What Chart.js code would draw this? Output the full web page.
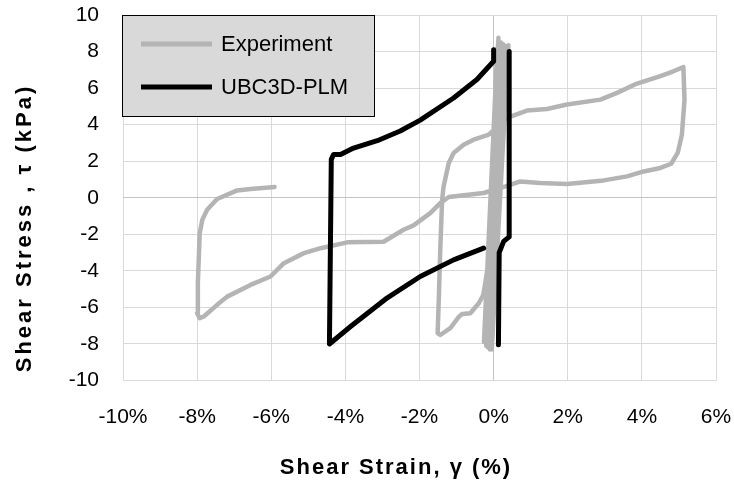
<!DOCTYPE html>
<html><head><meta charset="utf-8">
<script src="https://cdn.jsdelivr.net/npm/chart.js@4.4.1/dist/chart.umd.min.js"></script>
<style>html,body{margin:0;padding:0;background:#fff}</style>
</head><body>
<canvas id="c" width="734" height="484" style="width:734px;height:484px;display:block"></canvas>
<script>
const seriesLabels = ['Experiment', 'UBC3D-PLM'];
const xTickValues = [-10, -8, -6, -4, -2, 0, 2, 4, 6];
const yTickValues = [-10, -8, -6, -4, -2, 0, 2, 4, 6, 8, 10];

// Experiment: shear strain (%) and shear stress (kPa)
const expStrain = [0, 0.10, -0.26, 0.13, -0.20, 0.20, -0.15, 0.26, -0.10, 0.32, -0.05, 0.40,
  0.12, -0.10, -0.22, -0.28, -0.40, -0.63, -0.85, -0.94, -1.17, -1.44, -1.51, -1.48, -1.44, -1.39, -1.35, -1.21, -1.08, -0.81, -0.54, -0.13,
  0.0, 0.2, 0.36, 0.90, 1.44, 1.98, 2.88, 3.33, 3.87, 4.50, 4.85, 5.12,
  5.15, 5.08, 4.97, 4.79, 4.50, 4.05, 3.60, 2.97, 1.98, 1.26, 0.72, 0.32,
  -0.27, -1.21, -1.44, -1.71, -2.16, -2.43, -2.97, -3.95, -4.67, -5.12, -5.66, -6.02, -6.56, -7.19, -7.46, -7.82, -7.93, -8.00,
  -7.98, -7.93, -7.86, -7.73, -7.46, -6.92, -6.56, -5.91];
const expStress = [0, 8.2, -7.9, 8.75, -8.1, 8.5, -8.2, 8.4, -8.3, 8.3, -8.3, 8.35,
  2.0, -3.0, -4.6, -5.32, -5.77, -6.32, -6.36, -6.52, -7.14, -7.51, -7.41, -5.59, -2.85, -0.11, 0.62, 1.90, 2.45, 2.90, 3.18, 3.45,
  3.7, 4.1, 4.37, 4.77, 4.86, 5.10, 5.37, 5.74, 6.25, 6.65, 6.92, 7.15,
  5.37, 3.45, 2.47, 1.86, 1.63, 1.44, 1.17, 0.95, 0.75, 0.81, 0.89, 0.62,
  0.26, 0.04, -0.29, -0.84, -1.51, -1.75, -2.41, -2.44, -2.76, -3.03, -3.58, -4.31, -4.77, -5.41, -5.86, -6.50, -6.59, -6.32,
  -4.67, -1.93, -1.21, -0.66, -0.07, 0.40, 0.48, 0.59];

// UBC3D-PLM model (null = break in the line)
const modelStrain = [0.42, 0.42, 0.27, 0.15, 0.13, null,
  -0.27, -1.08, -1.98, -2.92, -3.86, -4.43, -4.38, -4.32, -4.13, -3.78, -3.14, -2.52, -1.98, -1.08, -0.45, 0, 0];
const modelStress = [8.0, -2.14, -2.39, -3.0, -8.05, null,
  -2.76, -3.40, -4.31, -5.55, -7.05, -8.0, 2.1, 2.36, 2.37, 2.72, 3.12, 3.65, 4.25, 5.46, 6.47, 7.47, 8.1];

const toPoints = (xs, ys) => xs.map((x, i) => ({x: x, y: ys[i]}));

const FONT = '"Liberation Sans", Arial, sans-serif';

const decor = {
  id: 'decor',
  afterDraw(chart) {
    const c = chart.ctx;
    c.save();
    // legend box
    c.fillStyle = '#d9d9d9';
    c.fillRect(122.5, 15.5, 252, 101);
    c.strokeStyle = '#000';
    c.lineWidth = 1;
    c.strokeRect(122.5, 15.5, 252, 101);
    const rows = [44, 87];
    seriesLabels.forEach((lab, i) => {
      const ds = chart.data.datasets.find(d => d.label === lab);
      const y = rows[i];
      c.strokeStyle = ds.borderColor;
      c.lineWidth = 5;
      c.beginPath(); c.moveTo(141, y); c.lineTo(212, y); c.stroke();
      c.fillStyle = '#000';
      c.font = '22px ' + FONT;
      c.textBaseline = 'middle';
      c.textAlign = 'left';
      c.fillText(lab, 221, y + 1);
    });
    // axis titles
    c.fillStyle = '#000';
    c.font = 'bold 22px ' + FONT;
    c.textAlign = 'center';
    c.textBaseline = 'middle';
    try { c.letterSpacing = '2px'; } catch (e) {}
    c.fillText('Shear Strain, γ (%)', 396, 468);
    try { c.letterSpacing = '3px'; } catch (e) {}
    c.translate(25, 228);
    c.rotate(-Math.PI / 2);
    c.fillText('Shear Stress , τ (kPa)', 0, 0);
    c.restore();
  }
};

const gridColor = (ctx) => (ctx.tick && ctx.tick.value === 0) ? '#c4c4c4' : '#d9d9d9';

new Chart(document.getElementById('c'), {
  type: 'scatter',
  data: {
    datasets: [
      {
        label: seriesLabels[0],
        data: toPoints(expStrain, expStress),
        showLine: true,
        borderColor: '#b4b4b4',
        borderWidth: 4.5,
        pointRadius: 0,
        tension: 0,
        borderJoinStyle: 'round',
        borderCapStyle: 'round',
        order: 1
      },
      {
        label: seriesLabels[1],
        data: toPoints(modelStrain, modelStress),
        showLine: true,
        borderColor: '#000000',
        borderWidth: 5,
        pointRadius: 0,
        tension: 0,
        spanGaps: false,
        borderJoinStyle: 'round',
        borderCapStyle: 'round',
        order: 0
      }
    ]
  },
  options: {
    responsive: false,
    animation: false,
    devicePixelRatio: 1,
    layout: { padding: { top: 15, right: 18, left: 0, bottom: 0 } },
    plugins: { legend: { display: false }, tooltip: { enabled: false } },
    scales: {
      x: {
        type: 'linear',
        min: -10, max: 6,
        afterFit(scale) { scale.height = 103.5; scale.paddingLeft = 0; scale.paddingRight = 0; },
        afterBuildTicks(scale) { scale.ticks = xTickValues.map(v => ({value: v})); },
        ticks: {
          padding: 24,
          color: '#000',
          font: { family: FONT, size: 21 },
          callback: (v) => v + '%'
        },
        grid: { color: gridColor, lineWidth: 1, drawTicks: false },
        border: { display: false }
      },
      y: {
        type: 'linear',
        min: -10, max: 10,
        afterFit(scale) { scale.width = 123; scale.paddingTop = 0; scale.paddingBottom = 0; },
        afterBuildTicks(scale) { scale.ticks = yTickValues.map(v => ({value: v})); },
        ticks: {
          padding: 24,
          color: '#000',
          font: { family: FONT, size: 21 }
        },
        grid: { color: gridColor, lineWidth: 1, drawTicks: false },
        border: { display: false }
      }
    }
  },
  plugins: [decor]
});
</script>
</body></html>
